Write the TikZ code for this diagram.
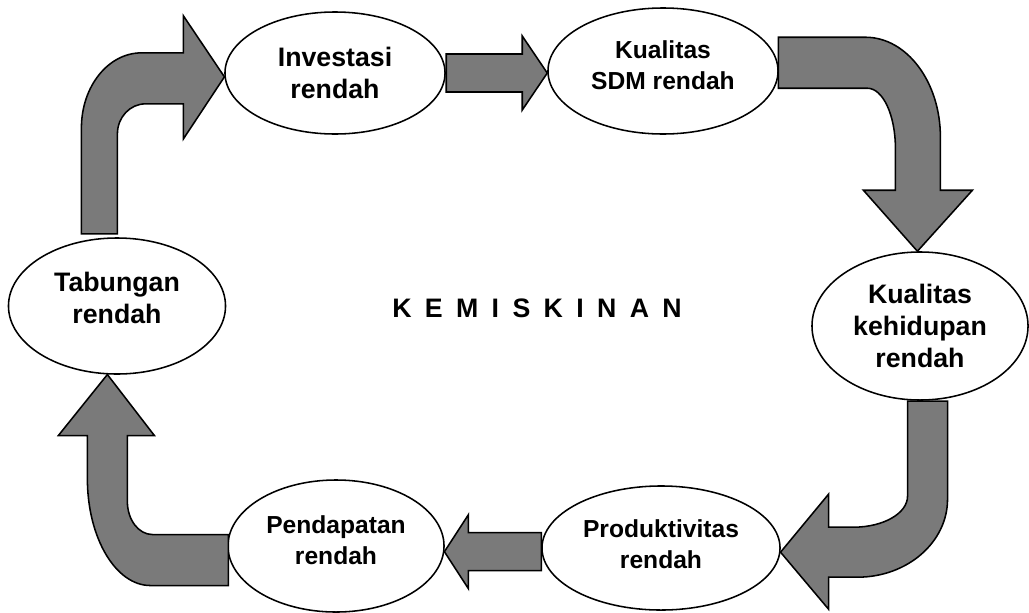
\documentclass[tikz,border=0pt]{standalone}
\usepackage{fontspec}
\setmainfont{Liberation Sans}
\usetikzlibrary{shapes.geometric}

% extra depth below the last line, moves the text up in its oval
\newcommand{\pad}[1]{\rule[-#1]{0pt}{#1}}

\tikzset{
  blob/.style={ellipse, draw, line width=1.1pt, fill=white, inner sep=0pt, align=center},
  big/.style={font=\fontsize{19}{22.5}\selectfont\bfseries},
  small/.style={font=\fontsize{17.5}{21.5}\selectfont\bfseries},
  fatarrow/.style={draw, line width=1.1pt, fill=black!52}
}

\begin{document}
\begin{tikzpicture}[x=0.025cm, y=-0.025cm]
\useasboundingbox (0,0) rectangle (1029,612);

% the six states
\node[blob, big, minimum width=5.5cm, minimum height=3.05cm] (inv) at (335,73) {Investasi\\rendah};
\node[blob, small, minimum width=5.75cm, minimum height=3.15cm] (sdm) at (663,71) {Kualitas\\SDM rendah\pad{8.5pt}};
\node[blob, big, minimum width=5.4cm, minimum height=3.7cm] (hid) at (920,326) {Kualitas\\kehidupan\\rendah};
\node[blob, small, minimum width=5.95cm, minimum height=3.1cm] (prod) at (661,548) {Produktivitas\\rendah\pad{5.7pt}};
\node[blob, small, minimum width=5.4cm, minimum height=3.3cm] (pend) at (336,546) {Pendapatan\\rendah\pad{8.5pt}};
\node[blob, big, minimum width=5.425cm, minimum height=3.4cm] (tab) at (117,306) {Tabungan\\rendah\pad{11.4pt}};

\node[font=\fontsize{19}{23}\selectfont\bfseries] (kem) at (537,308) {\spaceskip=9.5pt K E M I S K I N A N};

% block arrows, each drawn from its tip
\draw[fatarrow] (inv.182) -- ++(-41,62) -- ++(0,-35) -- ++(-38,0)
  arc[start angle=-90, end angle=-180, x radius=28, y radius=30]
  -- ++(0,100) -- ++(-36,0) -- ++(0,-106)
  arc[start angle=180, end angle=270, x radius=60, y radius=75]
  -- ++(42,0) -- ++(0,-37) -- cycle;

\draw[fatarrow] (sdm.181) -- ++(-25,-37) -- ++(0,18) -- ++(-76,0)
  -- ++(0,38) -- ++(76,0) -- ++(0,18) -- cycle;

\draw[fatarrow] (hid.92) -- ++(-54,-61) -- ++(32,0) -- ++(0,-42)
  arc[start angle=0, end angle=-90, x radius=28, y radius=60]
  -- ++(-89,0) -- ++(0,-51) -- ++(87,0)
  arc[start angle=-90, end angle=0, x radius=75, y radius=100]
  -- ++(0,53) -- ++(32,0) -- cycle;

\draw[fatarrow] (prod.-2) -- ++(48,-58) -- ++(0,33) -- ++(25,0)
  arc[start angle=90, end angle=0, x radius=54, y radius=31]
  -- ++(0,-95) -- ++(40,0) -- ++(0,98)
  arc[start angle=0, end angle=90, x radius=90, y radius=78]
  -- ++(-29,0) -- ++(0,32) -- cycle;

\draw[fatarrow] (pend.-3) -- ++(24,-37) -- ++(0,18) -- ++(73,0)
  -- ++(0,38) -- ++(-73,0) -- ++(0,18) -- cycle;

\draw[fatarrow] (tab.262) -- ++(47,61) -- ++(-27,0) -- ++(0,66)
  arc[start angle=180, end angle=90, x radius=25, y radius=33]
  -- ++(76,0) -- ++(0,51) -- ++(-78,0)
  arc[start angle=90, end angle=180, x radius=63, y radius=107]
  -- ++(0,-43) -- ++(-29,0) -- cycle;
\end{tikzpicture}
\end{document}
